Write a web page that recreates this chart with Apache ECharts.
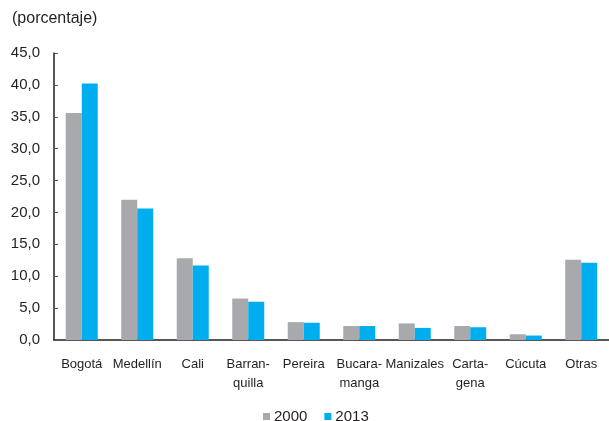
<!DOCTYPE html>
<html><head><meta charset="utf-8">
<script src="https://cdn.jsdelivr.net/npm/echarts@6/dist/echarts.min.js"></script>
<style>html,body{margin:0;padding:0;background:#fff}#c{width:609px;height:421px}</style>
</head><body><div id="c"></div>
<script>
const categories = ['Bogotá','Medellín','Cali','Barran-\nquilla','Pereira','Bucara-\nmanga','Manizales','Carta-\ngena','Cúcuta','Otras'];
const values2000 = [35.6, 22.0, 12.8, 6.5, 2.8, 2.2, 2.6, 2.2, 0.9, 12.6];
const values2013 = [40.2, 20.6, 11.7, 6.0, 2.7, 2.2, 1.9, 2.0, 0.7, 12.1];
const seriesNames = ['2000','2013'];
const yUnit = '(porcentaje)';

const font = '"Liberation Sans", Arial, Helvetica, sans-serif';
const txt = '#231f20';
const chart = echarts.init(document.getElementById('c'), null, {renderer:'canvas'});
chart.setOption({
  animation:false,
  textStyle:{fontFamily:font},
  title:{text:yUnit,left:7,top:6,textStyle:{fontFamily:font,fontSize:16,fontWeight:'normal',color:txt}},
  legend:{data:seriesNames,left:258,top:404,itemWidth:7,itemHeight:7,itemGap:17,icon:'rect',
    textStyle:{fontFamily:font,fontSize:15,color:txt,padding:[0,0,0,-1]}},
  grid:{left:54,right:-7,top:53,bottom:81,containLabel:false},
  xAxis:{type:'category',data:categories,
    axisLine:{lineStyle:{color:'#231f20',width:1.5}},
    axisTick:{inside:true,length:3,lineStyle:{color:'#231f20'}},
    axisLabel:{fontFamily:font,fontSize:13,color:txt,margin:15,lineHeight:19,interval:0}},
  yAxis:{type:'value',min:0,max:45,interval:5,
    axisLine:{show:true,lineStyle:{color:'#231f20',width:1.5}},
    axisTick:{show:true,inside:true,length:4,lineStyle:{color:'#555'}},
    splitLine:{show:false},
    axisLabel:{fontFamily:font,fontSize:15,color:txt,margin:14,formatter:v=>v.toFixed(1).replace('.',',')}},
  series:[
    {name:seriesNames[0],type:'bar',data:values2000,barWidth:16,barGap:'0%',itemStyle:{color:'#a7a9ac'}},
    {name:seriesNames[1],type:'bar',data:values2013,barWidth:16,barGap:'0%',itemStyle:{color:'#00aeef'}}
  ]
});
</script></body></html>
